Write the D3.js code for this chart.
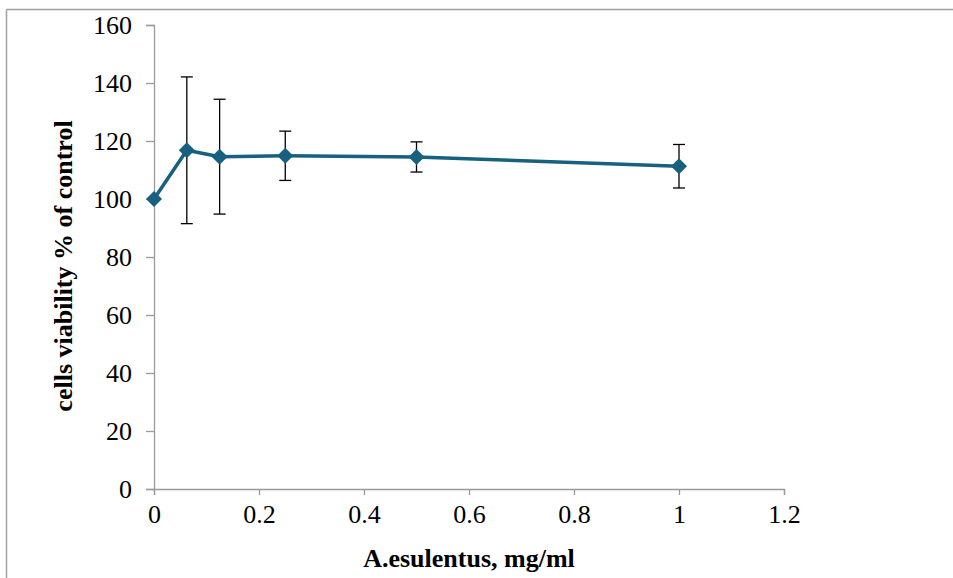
<!DOCTYPE html>
<html>
<head>
<meta charset="utf-8">
<script src="https://cdn.jsdelivr.net/npm/d3@7"></script>
<style>
  body { margin: 0; background: #fff; }
  svg text { font-family: "Liberation Serif", "Times New Roman", serif; }
</style>
</head>
<body>
<svg width="953" height="578"></svg>
<script>
var conc = [0, 0.0625, 0.125, 0.25, 0.5, 1];
var viability = [100, 116.8, 114.6, 114.9, 114.5, 111.3];
var errors = [0, 25.3, 19.8, 8.5, 5.2, 7.5];
var xTicks = [0, 0.2, 0.4, 0.6, 0.8, 1, 1.2];
var yTicks = [0, 20, 40, 60, 80, 100, 120, 140, 160];

var svg = d3.select("svg");

// outer frame (top + left only visible)
svg.append("line").attr("x1", 6.5).attr("y1", 9.5).attr("x2", 953).attr("y2", 9.5)
    .attr("stroke", "#a0a0a0").attr("stroke-width", 1.5);
svg.append("line").attr("x1", 6.5).attr("y1", 9.5).attr("x2", 6.5).attr("y2", 578)
    .attr("stroke", "#a0a0a0").attr("stroke-width", 1.5);

var x = d3.scaleLinear().domain([0, 1.2]).range([154, 784]);
var y = d3.scaleLinear().domain([0, 160]).range([489, 25]);

var xAxis = svg.append("g")
    .attr("transform", "translate(0," + y(0) + ")")
    .call(d3.axisBottom(x).tickValues(xTicks).tickSize(6).tickPadding(8)
        .tickFormat(function(d) { return d3.format("")(+d.toFixed(1)); }));
var yAxis = svg.append("g")
    .attr("transform", "translate(" + x(0) + ",0)")
    .call(d3.axisLeft(y).tickValues(yTicks).tickSize(8).tickPadding(14));

[xAxis, yAxis].forEach(function(a) {
    a.attr("font-size", null).attr("font-family", null);
    a.select(".domain").attr("stroke", "#9a9a9a").attr("stroke-width", 1.3);
    a.selectAll(".tick line").attr("stroke", "#9a9a9a").attr("stroke-width", 1.3);
    a.selectAll("text").style("font-size", "26px").attr("fill", "#000");
});
xAxis.selectAll("text").attr("dy", "0.75em");
yAxis.selectAll("text").attr("dy", "0.33em");

// error bars
var eb = svg.append("g").selectAll("g")
    .data(conc.map(function(c, i) { return {x: c, y: viability[i], e: errors[i]}; })
        .filter(function(d) { return d.e > 0; }))
    .enter().append("g")
    .attr("stroke", "#000").attr("stroke-width", 1.3);
eb.append("line")
    .attr("x1", function(d) { return x(d.x); }).attr("x2", function(d) { return x(d.x); })
    .attr("y1", function(d) { return y(d.y + d.e); }).attr("y2", function(d) { return y(d.y - d.e); });
eb.append("line")
    .attr("x1", function(d) { return x(d.x) - 6; }).attr("x2", function(d) { return x(d.x) + 6; })
    .attr("y1", function(d) { return y(d.y + d.e); }).attr("y2", function(d) { return y(d.y + d.e); });
eb.append("line")
    .attr("x1", function(d) { return x(d.x) - 6; }).attr("x2", function(d) { return x(d.x) + 6; })
    .attr("y1", function(d) { return y(d.y - d.e); }).attr("y2", function(d) { return y(d.y - d.e); });

// line
var line = d3.line()
    .x(function(d, i) { return x(conc[i]); })
    .y(function(d) { return y(d); });
svg.append("path")
    .datum(viability)
    .attr("fill", "none")
    .attr("stroke", "#17607f")
    .attr("stroke-width", 3.5)
    .attr("stroke-linejoin", "round")
    .attr("d", line);

// diamond markers
svg.append("g").selectAll("path")
    .data(viability)
    .enter().append("path")
    .attr("transform", function(d, i) { return "translate(" + x(conc[i]) + "," + y(d) + ")"; })
    .attr("d", "M0,-8L8,0L0,8L-8,0Z")
    .attr("fill", "#17607f");

// axis titles
svg.append("text")
    .attr("x", 469).attr("y", 567)
    .attr("text-anchor", "middle")
    .style("font-size", "26px").attr("font-weight", "bold")
    .text("A.esulentus, mg/ml");
svg.append("text")
    .attr("transform", "translate(72,266) rotate(-90)")
    .attr("text-anchor", "middle")
    .style("font-size", "26px").attr("font-weight", "bold")
    .text("cells viability % of control");
</script>
</body>
</html>
